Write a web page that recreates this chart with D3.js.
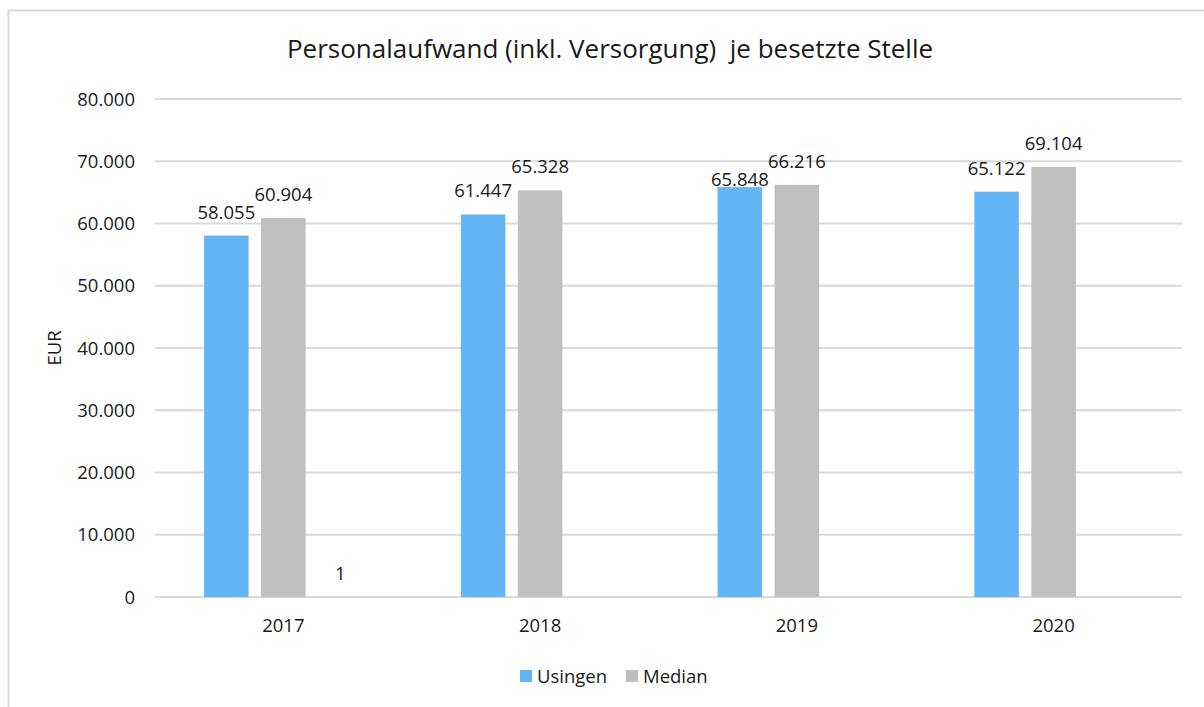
<!DOCTYPE html>
<html>
<head>
<meta charset="utf-8">
<script src="https://cdn.jsdelivr.net/npm/d3@7"></script>
<style>
  body { margin: 0; background: #fff; }
  text { font-family: "Open Sans", sans-serif; fill: #1a1a1a; white-space: pre; }
</style>
</head>
<body>
<div id="chart"></div>
<script>
// data
var years = ["2017", "2018", "2019", "2020"];
var usingen = [58055, 61447, 65848, 65122];
var median = [60904, 65328, 66216, 69104];
var hidden = [1, null, null, null]; // the stray "1" label, no visible bar
var seriesNames = ["Usingen", "Median", "_x"];
var seriesColors = ["#63B5F6", "#BFBFBF", "none"];
var yTicks = [0, 10000, 20000, 30000, 40000, 50000, 60000, 70000, 80000];
var title = "Personalaufwand (inkl. Versorgung)  je besetzte Stelle";

var W = 1204, H = 707;
var plotL = 155, plotR = 1182, plotT = 99, plotB = 597;
var fs = 18.5;

var fmt = function(v) { return d3.format(",")(v).replace(/,/g, "."); };

var svg = d3.select("#chart").append("svg")
  .attr("width", W).attr("height", H);

// frame
svg.append("rect").attr("x", 8.5).attr("y", 10.5)
  .attr("width", 1300).attr("height", 800)
  .attr("fill", "none").attr("stroke", "#d9d9d9").attr("stroke-width", 2);

var x0 = d3.scaleBand().domain(years).range([plotL, plotR]).padding(0);
var x1 = d3.scaleBand().domain(seriesNames).range([0, x0.bandwidth()])
  .paddingInner(0.219).paddingOuter(0.861);
var y = d3.scaleLinear().domain([0, 80000]).range([plotB, plotT]);

// grid
svg.append("g").selectAll("line").data(yTicks).enter().append("line")
  .attr("x1", plotL).attr("x2", plotR)
  .attr("y1", function(d) { return y(d); }).attr("y2", function(d) { return y(d); })
  .attr("stroke", "#d9d9d9").attr("stroke-width", 2);

// y tick labels
svg.append("g").selectAll("text").data(yTicks).enter().append("text")
  .attr("x", 135).attr("y", function(d) { return y(d) + 6.5; })
  .attr("text-anchor", "end").style("font-size", fs + "px")
  .text(fmt);

// x labels
svg.append("g").selectAll("text").data(years).enter().append("text")
  .attr("x", function(d) { return x0(d) + x0.bandwidth() / 2; })
  .attr("y", 632).attr("text-anchor", "middle").style("font-size", fs + "px")
  .text(function(d) { return d; });

// bars
var allSeries = [usingen, median, hidden];
var rows = [];
years.forEach(function(yr, i) {
  allSeries.forEach(function(s, k) {
    if (s[i] != null) rows.push({ year: yr, s: seriesNames[k], k: k, v: s[i] });
  });
});

svg.append("g").selectAll("rect").data(rows.filter(function(d) { return d.k < 2; }))
  .enter().append("rect")
  .attr("x", function(d) { return x0(d.year) + x1(d.s); })
  .attr("y", function(d) { return y(d.v); })
  .attr("width", x1.bandwidth())
  .attr("height", function(d) { return plotB - y(d.v); })
  .attr("fill", function(d) { return seriesColors[d.k]; });

// labels: baseline 17px above bar top, push Usingen label down if it collides with Median's
rows.forEach(function(d) { d.ly = y(d.v) - 17; });
years.forEach(function(yr) {
  var a = rows.find(function(d) { return d.year === yr && d.k === 0; });
  var b = rows.find(function(d) { return d.year === yr && d.k === 1; });
  if (a && b && Math.abs(a.ly - b.ly) < 14) a.ly = b.ly + 18;
});

svg.append("g").selectAll("text").data(rows).enter().append("text")
  .attr("x", function(d) { return x0(d.year) + x1(d.s) + x1.bandwidth() / 2; })
  .attr("y", function(d) { return d.ly; })
  .attr("text-anchor", "middle").style("font-size", fs + "px")
  .text(function(d) { return fmt(d.v); });

// title
svg.append("text").attr("x", 610).attr("y", 58).attr("text-anchor", "middle")
  .style("font-size", "26px").text(title);

// y axis title
svg.append("text").attr("transform", "translate(61,348) rotate(-90)")
  .attr("text-anchor", "middle").style("font-size", fs + "px").text("EUR");

// legend
var leg = svg.append("g").selectAll("g").data(seriesNames.slice(0, 2)).enter().append("g")
  .attr("transform", function(d, i) { return "translate(" + (520 + i * 106) + ",0)"; });
leg.append("rect").attr("x", 0).attr("y", 670).attr("width", 12).attr("height", 12)
  .attr("fill", function(d, i) { return seriesColors[i]; });
leg.append("text").attr("x", 17).attr("y", 683).style("font-size", fs + "px")
  .text(function(d) { return d; });
</script>
</body>
</html>
